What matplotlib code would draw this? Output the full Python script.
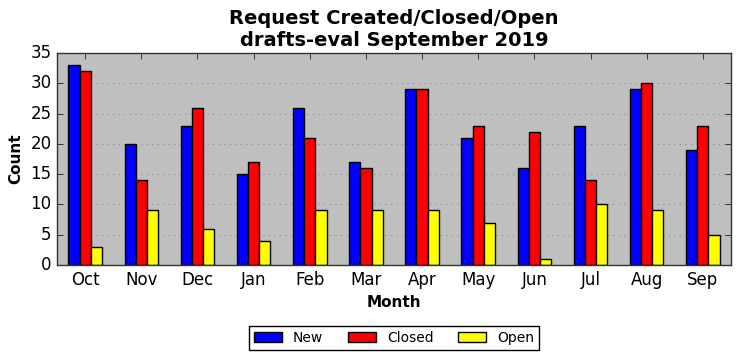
import matplotlib
matplotlib.use("Agg")
import matplotlib.pyplot as plt
import numpy as np

plt.style.use("classic")

months = ["Oct", "Nov", "Dec", "Jan", "Feb", "Mar", "Apr", "May", "Jun", "Jul", "Aug", "Sep"]
new = [33, 20, 23, 15, 26, 17, 29, 21, 16, 23, 29, 19]
closed = [32, 14, 26, 17, 21, 16, 29, 23, 22, 14, 30, 23]
open_ = [3, 9, 6, 4, 9, 9, 9, 7, 1, 10, 9, 5]

fig = plt.figure(figsize=(7.42, 3.61), dpi=100)
ax = fig.add_axes([0.077, 0.266, 0.908, 0.587])
ax.set_facecolor("#bfbfbf")

x = np.arange(len(months))
w = 0.2
ax.bar(x - w, new, w, align="center", color="blue", edgecolor="black", label="New")
ax.bar(x, closed, w, align="center", color="red", edgecolor="black", label="Closed")
ax.bar(x + w, open_, w, align="center", color="yellow", edgecolor="black", label="Open")

ax.set_xlim(-0.5, len(months) - 0.5)
ax.set_ylim(0, 35)
ax.set_xticks(x)
ax.set_xticklabels(months, fontsize=12)
ax.tick_params(axis="y", labelsize=12)
ax.yaxis.grid(True, linestyle=":", color="gray")
ax.set_axisbelow(True)
for s in ax.spines.values():
    s.set_color("#333333")

ax.set_xlabel("Month", fontsize=11, fontweight="bold")
ax.set_ylabel("Count", fontsize=11, fontweight="bold")
ax.set_title("Request Created/Closed/Open\ndrafts-eval September 2019", fontsize=14, fontweight="bold")

ax.legend(loc="upper center", bbox_to_anchor=(0.5, -0.255), ncol=3, fontsize=10,
          columnspacing=1.8, borderpad=0.35, frameon=True)

fig.savefig("out.png", dpi=100)
